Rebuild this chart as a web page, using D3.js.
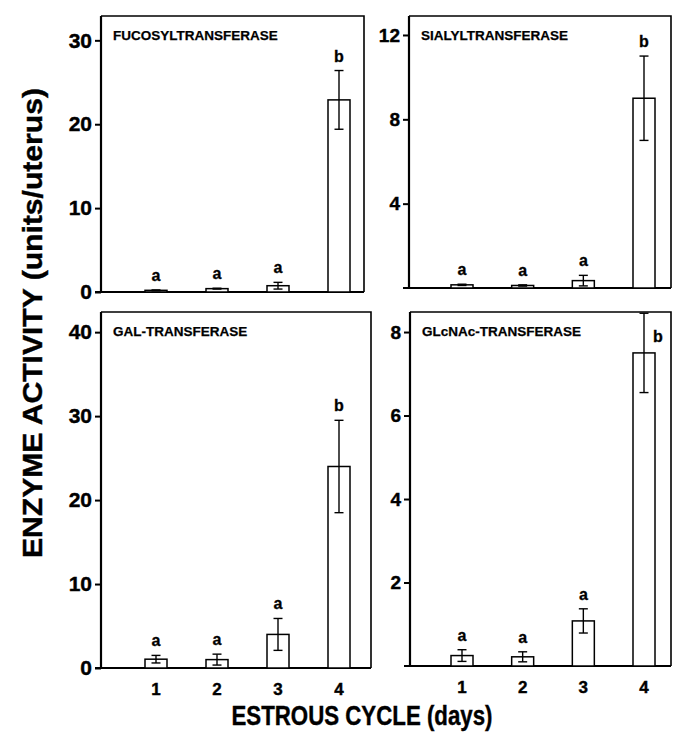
<!DOCTYPE html>
<html>
<head>
<meta charset="utf-8">
<script src="https://cdn.jsdelivr.net/npm/d3@7"></script>
<style>
  html, body { margin: 0; padding: 0; background: #fff; }
  svg { display: block; }
  text { font-family: "Liberation Sans", Arial, Helvetica, sans-serif; font-weight: bold; fill: #000; }
</style>
</head>
<body>
<svg id="chart" width="673" height="736"></svg>
<script>
// ---- data ----
const days = [1, 2, 3, 4];

const fucMean = [0.2, 0.4, 0.75, 22.9];
const fucErr  = [0.05, 0.05, 0.4, 3.5];
const fucLetters = ["a", "a", "a", "b"];
const fucTicks = [0, 10, 20, 30];

const sialMean = [0.15, 0.12, 0.35, 9.0];
const sialErr  = [0.03, 0.03, 0.25, 2.0];
const sialLetters = ["a", "a", "a", "b"];
const sialTicks = [4, 8, 12];

const galMean = [1.05, 1.0, 4.0, 24.0];
const galErr  = [0.45, 0.65, 1.9, 5.5];
const galLetters = ["a", "a", "a", "b"];
const galTicks = [0, 10, 20, 30, 40];

const glcMean = [0.25, 0.22, 1.08, 7.5];
const glcErr  = [0.14, 0.12, 0.29, 0.95];
const glcLetters = ["a", "a", "a", "b"];
const glcTicks = [2, 4, 6, 8];

const panelTitles = ["FUCOSYLTRANSFERASE", "SIALYLTRANSFERASE", "GAL-TRANSFERASE", "GLcNAc-TRANSFERASE"];
const yAxisTitle = "ENZYME ACTIVITY (units/uterus)";
const xAxisTitle = "ESTROUS CYCLE (days)";

// ---- layout ----
const panels = [
  { title: panelTitles[0], mean: fucMean, err: fucErr, letters: fucLetters, ticks: fucTicks,
    x0: 101, x1: 364, yTop: 16, yZero: 292, yMax: 32.9, bx0: 55, bx1: 238, tickFont: 21, xLabels: false },
  { title: panelTitles[1], mean: sialMean, err: sialErr, letters: sialLetters, ticks: sialTicks,
    x0: 409, x1: 671, yTop: 16, yZero: 288, yMax: 12.9, bx0: 53, bx1: 235, tickFont: 19, xLabels: false },
  { title: panelTitles[2], mean: galMean, err: galErr, letters: galLetters, ticks: galTicks,
    x0: 101, x1: 371, yTop: 312, yZero: 668, yMax: 42.4, bx0: 55, bx1: 238, tickFont: 21, xLabels: true },
  { title: panelTitles[3], mean: glcMean, err: glcErr, letters: glcLetters, ticks: glcTicks,
    x0: 410, x1: 671, yTop: 312, yZero: 666, yMax: 8.48, bx0: 52, bx1: 234, tickFont: 19, xLabels: true }
];

const svg = d3.select("#chart");
const barW = 22, capW = 9;

panels.forEach(p => {
  const g = svg.append("g");
  const x = d3.scalePoint().domain(days).range([p.x0 + p.bx0, p.x0 + p.bx1]);
  const y = d3.scaleLinear().domain([0, p.yMax]).range([p.yZero, p.yTop]);

  // frame: top and right
  g.append("path")
    .attr("d", `M${p.x0},${p.yTop}H${p.x1}V${p.yZero}`)
    .attr("fill", "none").attr("stroke", "#000").attr("stroke-width", 1.6);

  // y axis
  const yAxis = d3.axisLeft(y).tickValues(p.ticks).tickSize(6).tickPadding(3).tickFormat(d3.format("d"));
  const ya = g.append("g").attr("transform", `translate(${p.x0},0)`).call(yAxis);
  ya.select(".domain").remove();
  ya.selectAll(".tick line").attr("stroke", "#000").attr("stroke-width", 2);
  ya.selectAll(".tick text").style("font-size", p.tickFont + "px").attr("font-family", null)
    .attr("stroke", "#000").attr("stroke-width", 0.4);
  g.append("line").attr("x1", p.x0).attr("x2", p.x0).attr("y1", p.yTop).attr("y2", p.yZero + 1)
    .attr("stroke", "#000").attr("stroke-width", 2.2);

  // baseline
  g.append("line").attr("x1", p.x0 - 6).attr("x2", p.x1).attr("y1", p.yZero).attr("y2", p.yZero)
    .attr("stroke", "#000").attr("stroke-width", 2.2);

  // panel title
  g.append("text").attr("x", p.x0 + 12).attr("y", p.yTop + 24)
    .style("font-size", "13.5px").attr("stroke", "#000").attr("stroke-width", 0.25).text(p.title);

  const data = days.map((d, i) => ({ d, m: p.mean[i], e: p.err[i], l: p.letters[i] }));

  // bars
  g.selectAll("rect.bar").data(data).enter().append("rect")
    .attr("class", "bar")
    .attr("x", d => x(d.d) - barW / 2)
    .attr("width", barW)
    .attr("y", d => y(d.m))
    .attr("height", d => y(0) - y(d.m))
    .attr("fill", "#fff").attr("stroke", "#000").attr("stroke-width", 1.5);

  // error bars
  const eb = g.selectAll("g.eb").data(data).enter().append("g").attr("class", "eb");
  eb.append("line")
    .attr("x1", d => x(d.d)).attr("x2", d => x(d.d))
    .attr("y1", d => y(d.m + d.e)).attr("y2", d => y(Math.max(0, d.m - d.e)))
    .attr("stroke", "#000").attr("stroke-width", 1.4);
  eb.append("line")
    .attr("x1", d => x(d.d) - capW / 2).attr("x2", d => x(d.d) + capW / 2)
    .attr("y1", d => y(d.m + d.e)).attr("y2", d => y(d.m + d.e))
    .attr("stroke", "#000").attr("stroke-width", 1.4);
  eb.append("line")
    .attr("x1", d => x(d.d) - capW / 2).attr("x2", d => x(d.d) + capW / 2)
    .attr("y1", d => y(Math.max(0, d.m - d.e))).attr("y2", d => y(Math.max(0, d.m - d.e)))
    .attr("stroke", "#000").attr("stroke-width", 1.4);

  // significance letters
  g.selectAll("text.sig").data(data).enter().append("text")
    .attr("class", "sig")
    .style("font-size", "16px")
    .attr("text-anchor", "middle")
    .attr("stroke", "#000").attr("stroke-width", 0.3)
    .each(function (d) {
      const top = y(d.m + d.e);
      let tx = x(d.d), ty = top - 9;
      if (ty - 12 < p.yTop) { tx = x(d.d) + 14; ty = top + 29; }
      d3.select(this).attr("x", tx).attr("y", ty);
    })
    .text(d => d.l);

  // x labels
  if (p.xLabels) {
    g.selectAll("text.xl").data(days).enter().append("text")
      .attr("class", "xl")
      .attr("x", d => x(d)).attr("y", p.yZero + 27)
      .attr("text-anchor", "middle")
      .style("font-size", "17px")
      .attr("stroke", "#000").attr("stroke-width", 0.4)
      .text(d => d);
  }
});

// axis titles
svg.append("text")
  .attr("transform", "translate(42,323) rotate(-90)")
  .attr("text-anchor", "middle")
  .style("font-size", "27px")
  .attr("stroke", "#000").attr("stroke-width", 0.4)
  .attr("textLength", 470).attr("lengthAdjust", "spacingAndGlyphs")
  .text(yAxisTitle);

svg.append("text")
  .attr("x", 362).attr("y", 725)
  .attr("text-anchor", "middle")
  .style("font-size", "27px")
  .attr("stroke", "#000").attr("stroke-width", 0.4)
  .attr("textLength", 261).attr("lengthAdjust", "spacingAndGlyphs")
  .text(xAxisTitle);
</script>
</body>
</html>
